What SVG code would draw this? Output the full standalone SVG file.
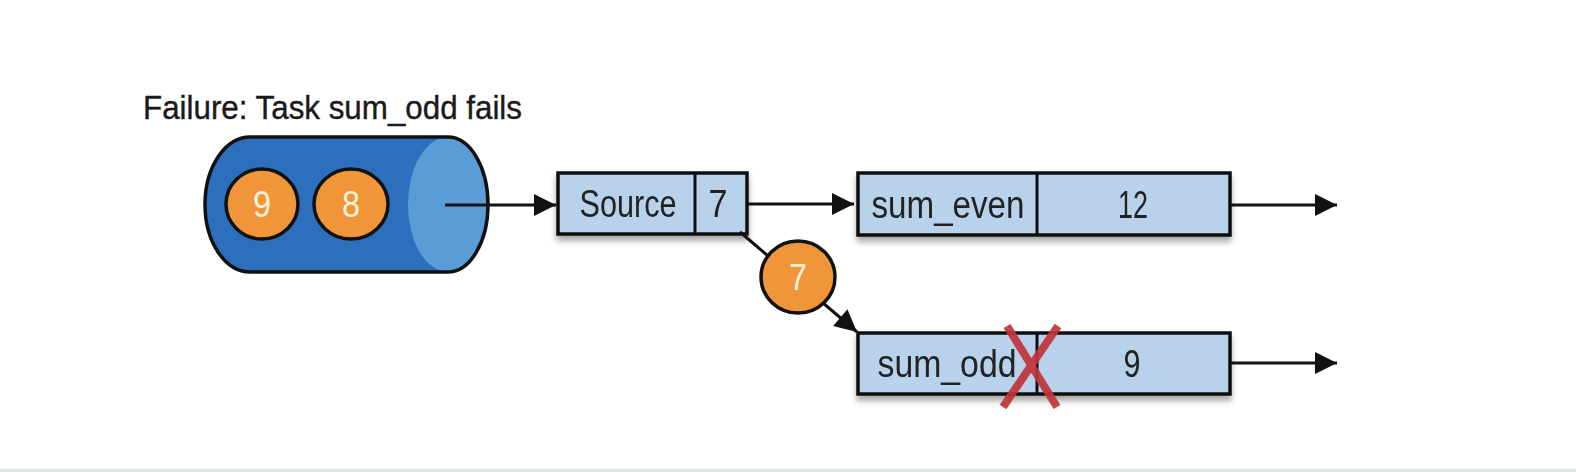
<svg xmlns="http://www.w3.org/2000/svg" width="1576" height="472" viewBox="0 0 1576 472">
<style>
.box{fill:#b7d2ea;stroke:#111;stroke-width:3.5}
.div{stroke:#111;stroke-width:3}
.lbl{font-family:"Liberation Sans",Arial,sans-serif;font-size:38px;fill:#222;text-anchor:middle}
.ball{fill:#f0953a;stroke:#111;stroke-width:3.5}
.bt{font-family:"Liberation Sans",Arial,sans-serif;font-size:37px;fill:#fdf1d8;text-anchor:middle}
.conn{stroke:#111;stroke-width:3;fill:none;marker-end:url(#ah)}
</style>
<defs>
<marker id="ah" viewBox="0 0 10 10" refX="10" refY="5" markerWidth="25" markerHeight="22" markerUnits="userSpaceOnUse" orient="auto">
<path d="M0,0 L10,5 L0,10 Z" fill="#111"/>
</marker>
<filter id="sh" x="-10%" y="-20%" width="120%" height="160%">
<feDropShadow dx="0" dy="5" stdDeviation="3" flood-color="#000" flood-opacity="0.35"/>
</filter>
<clipPath id="cyl"><path d="M250,137 H448 A40 67.5 0 0 1 448,272 H250 A45 67.5 0 0 1 250,137 Z"/></clipPath>
</defs>
<rect width="1576" height="472" fill="#fff"/>
<rect x="0" y="469" width="1576" height="3" fill="#dde6e8"/>

<g id="title">
<text x="143" y="119" font-family="'Liberation Sans',Arial,sans-serif" font-size="34" fill="#1a1a1a" stroke="#1a1a1a" stroke-width="0.4" textLength="379" lengthAdjust="spacingAndGlyphs">Failure: Task sum_odd fails</text>
</g>

<g id="queue">
<path d="M250,137 H448 A40 67.5 0 0 1 448,272 H250 A45 67.5 0 0 1 250,137 Z" fill="#2c70bd"/>
<ellipse cx="448" cy="204.5" rx="40" ry="67.5" fill="#5a9dd6" clip-path="url(#cyl)"/>
<path d="M250,137 H448 A40 67.5 0 0 1 448,272 H250 A45 67.5 0 0 1 250,137 Z" fill="none" stroke="#111" stroke-width="3.5"/>
<ellipse class="ball" cx="262" cy="204" rx="36" ry="35"/>
<text class="bt" x="262" y="217" textLength="18" lengthAdjust="spacingAndGlyphs">9</text>
<ellipse class="ball" cx="351" cy="204" rx="37" ry="35"/>
<text class="bt" x="351" y="217" textLength="18" lengthAdjust="spacingAndGlyphs">8</text>
</g>

<g id="source" filter="url(#sh)">
<rect class="box" x="558" y="173" width="189" height="61"/>
<line class="div" x1="695" y1="173" x2="695" y2="234"/>
<text class="lbl" x="628" y="217" textLength="97" lengthAdjust="spacingAndGlyphs">Source</text>
<text class="lbl" x="718" y="217" textLength="19" lengthAdjust="spacingAndGlyphs">7</text>
</g>

<g id="sum_even" filter="url(#sh)">
<rect class="box" x="858" y="173" width="372" height="62"/>
<line class="div" x1="1037" y1="173" x2="1037" y2="235"/>
<text class="lbl" x="948" y="218" textLength="153" lengthAdjust="spacingAndGlyphs">sum_even</text>
<text class="lbl" x="1133" y="218" textLength="30" lengthAdjust="spacingAndGlyphs">12</text>
</g>

<g id="sum_odd" filter="url(#sh)">
<rect class="box" x="858" y="333" width="372" height="61"/>
<line class="div" x1="1037" y1="333" x2="1037" y2="394"/>
<text class="lbl" x="947" y="377" textLength="139" lengthAdjust="spacingAndGlyphs">sum_odd</text>
<text class="lbl" x="1132" y="377" textLength="17" lengthAdjust="spacingAndGlyphs">9</text>
</g>

<g id="connectors">
<line class="conn" x1="445" y1="205" x2="556" y2="205"/>
<line class="conn" x1="747" y1="204" x2="854" y2="204"/>
<line class="conn" x1="1230" y1="205" x2="1337" y2="205"/>
<line class="conn" x1="1230" y1="363" x2="1337" y2="363"/>
<line class="conn" x1="740" y1="232" x2="857" y2="332"/>
</g>

<g id="msg7">
<ellipse class="ball" cx="798" cy="277" rx="37" ry="36"/>
<text class="bt" x="798" y="290" textLength="18" lengthAdjust="spacingAndGlyphs">7</text>
</g>

<g id="failmark" stroke="#c0353a" stroke-width="8" stroke-linecap="butt" opacity="0.92">
<line x1="1007" y1="326" x2="1057" y2="407"/>
<line x1="1058" y1="326" x2="1003" y2="407"/>
</g>
</svg>
